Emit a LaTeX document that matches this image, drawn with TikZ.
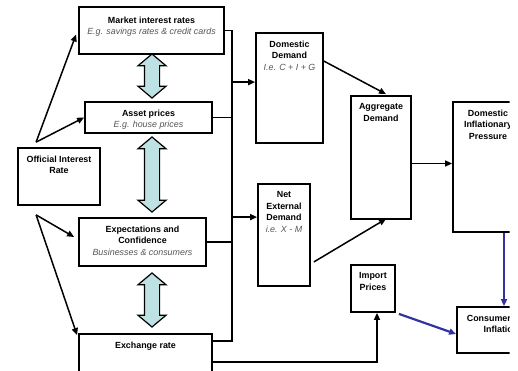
\documentclass[tikz,border=0pt]{standalone}
\usepackage{fontspec}
\setmainfont{Liberation Sans}
\usetikzlibrary{arrows.meta,shapes.arrows,calc}

\definecolor{paleteal}{RGB}{190,226,228}
\definecolor{linkblue}{RGB}{51,51,160}
\definecolor{notegray}{RGB}{85,85,85}

\newcommand\subtxt[1]{{\mdseries\itshape\color{notegray}#1}}

\tikzset{
  box/.style={draw, line width=1.8pt, inner sep=0pt},
  txt/.style={anchor=north, align=center, inner sep=0pt, font=\fontsize{8.9}{11.6}\selectfont\bfseries},
  dbl/.style={draw, line width=1.2pt, fill=paleteal, shape=double arrow, rotate=90,
    inner xsep=0pt, inner ysep=7pt, double arrow head extend=6.5pt, double arrow tip angle=100},
  blueline/.style={->, draw=linkblue, line width=2.2pt}
}

\begin{document}
\begin{tikzpicture}[x=1pt,y=-1pt,>={Triangle[length=7pt,width=6pt]},line width=1.5pt]

                \useasboundingbox (0,0) rectangle (518,371);
                \clip (0,0) rectangle (509.5,371);

                % left column
                \node[box,minimum width=145pt,minimum height=47pt,
                      label={[txt,yshift=-9.8pt]north:{Market interest rates\\\subtxt{E.g. savings rates \& credit cards}}}] (mir) at (151.5,30.5) {};

                \node[box,minimum width=127pt,minimum height=31pt,
                      label={[txt,yshift=-7.8pt]north:{Asset prices\\\subtxt{E.g. house prices}}}] (asset) at (148.5,117.5) {};

                \node[box,minimum width=82pt,minimum height=57pt,
                      label={[txt,yshift=-7.8pt]north:{Official Interest\\Rate}}] (oir) at (59,176.5) {};

                \node[box,minimum width=127pt,minimum height=48pt,
                      label={[txt,yshift=-7.8pt]north:{Expectations and\\Confidence\\\subtxt{Businesses \& consumers}}}] (expect) at (142.5,242) {};

                \node[box,minimum width=133pt,minimum height=46pt,
                      label={[txt,yshift=-7.8pt]north:{Exchange rate}}] (exch) at (145.5,357) {};

                % double arrows
                \node[dbl,minimum height=44pt] (dblA) at (152,76) {};
                \node[dbl,minimum height=75pt] (dblB) at (152,174.5) {};
                \node[dbl,minimum height=54pt] (dblC) at (152,300) {};

                % demand side
                \node[box,minimum width=67pt,minimum height=110pt,
                      label={[txt,yshift=-7.8pt]north:{Domestic\\Demand\\\subtxt{I.e. C + I + G}}}] (dd) at (289.5,88) {};

                \node[box,minimum width=52pt,minimum height=102pt,
                      label={[txt,yshift=-7.8pt]north:{Net\\External\\Demand\\\subtxt{i.e. X - M}}}] (ned) at (284,235) {};

                \node[box,minimum width=60pt,minimum height=123pt,
                      label={[txt,yshift=-7.8pt]north:{Aggregate\\Demand}}] (ad) at (381,157.5) {};

                \node[box,minimum width=44pt,minimum height=47pt,
                      label={[txt,yshift=-7.8pt]north:{Import\\Prices}}] (imp) at (373,288.5) {};

                \node[box,minimum width=70pt,minimum height=130pt,
                      label={[txt,yshift=-7.8pt]north:{Domestic\\Inflationary\\Pressure}}] (dip) at (488,167) {};

                \node[box,minimum width=88pt,minimum height=46pt,
                      label={[txt,yshift=-7.8pt]north:{Consumer Price\\Inflation}}] (cpi) at (501,330) {};

                % connectors
                \coordinate (oirtop) at ($(oir.north west)+(19,-5)$);
                \coordinate (oirbot) at ($(oir.south west)+(19,9)$);
                \coordinate (busB) at (232,341);
                \coordinate (ddin) at ($(dd.north west)+(0,50)$);
                \coordinate (nedin) at ($(ned.north west)+(0,34)$);
                \coordinate (adout) at ($(ad.east)+(0,6)$);
                \coordinate (dipout) at ($(dip.south)+(16,0)$);

                \draw[->] (oirtop) -- ($(mir.west)+(-2,4)$);
                \draw[->] (oirtop) -- (asset.west);
                \draw[->] (oirbot) -- ($(expect.west)+(-4,-5)$);
                \draw[->] (oirbot) -- ($(exch.north west)+(-1,2)$);

                \draw (mir.east) -- (mir.east -| busB) -- (busB) -- (busB -| exch.east);
                \draw (asset.east) -- (asset.east -| busB);
                \draw (expect.east) -- (expect.east -| busB);
                \draw[->] (ddin -| busB) -- (ddin);
                \draw[->] (nedin -| busB) -- (nedin);

                \draw[->] ($(dd.north east)+(0,29)$) -- ($(ad.north)+(5,-1)$);
                \draw[->] ($(ned.south east)+(3,-25)$) -- ($(ad.south)+(5,-1)$);
                \draw[->] (adout) -- (adout -| dip.west);
                \draw[->] ($(exch.east)+(0,5)$) -| ($(imp.south)+(4,0)$);

                \draw[blueline] (dipout) -- (dipout |- cpi.north);
                \draw[blueline] ($(imp.south east)+(3,1)$) -- ($(cpi.west)+(0,4)$);

\end{tikzpicture}
\end{document}
